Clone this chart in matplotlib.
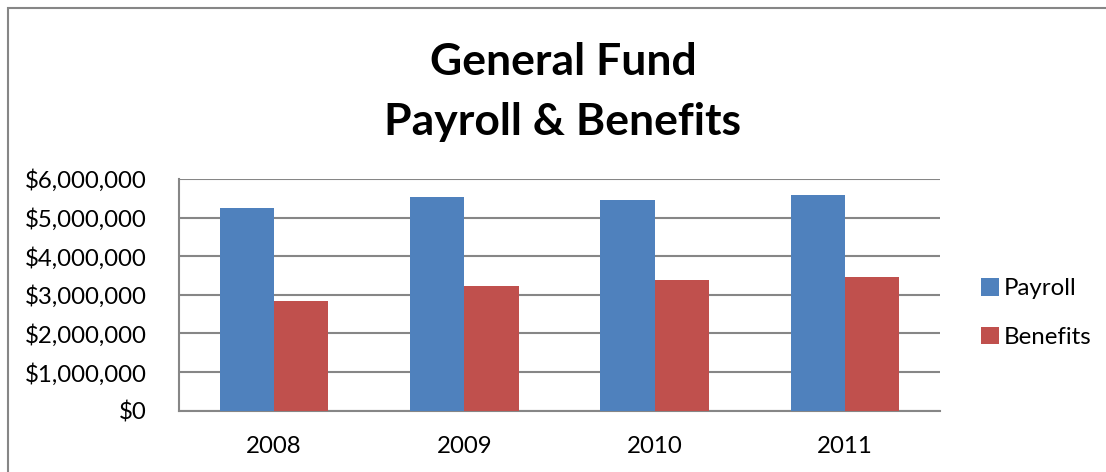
import matplotlib
matplotlib.use("Agg")
import matplotlib.pyplot as plt
import numpy as np
from matplotlib.patches import Rectangle
from matplotlib.ticker import FuncFormatter

years = ["2008", "2009", "2010", "2011"]
payroll = [5250000, 5540000, 5450000, 5590000]
benefits = [2830000, 3230000, 3390000, 3460000]
series_names = ["Payroll", "Benefits"]
colors = ["#4F81BD", "#C0504D"]

W, H = 1106, 472
fig = plt.figure(figsize=(W / 100, H / 100), dpi=100)
plt.rcParams['font.family'] = ['Lato', 'DejaVu Sans']

# outer chart border (left and top edges visible)
fig.patches.append(Rectangle((8 / W, -0.1), 1.1, 1 - 8 / H + 0.1,
                             transform=fig.transFigure, fill=False,
                             edgecolor="#868686", linewidth=1.5))

ax = fig.add_axes([179 / W, 1 - 410.7 / H, (940 - 179) / W, (410.7 - 179) / H])
x = np.arange(len(years))
bw = 1 / 3.5
ax.bar(x - bw / 2, payroll, width=bw, color=colors[0], label=series_names[0], zorder=3)
ax.bar(x + bw / 2, benefits, width=bw, color=colors[1], label=series_names[1], zorder=3)

ax.set_xlim(-0.5, len(years) - 0.5)
ax.set_ylim(0, 6000000)
ax.set_yticks(np.arange(0, 6000001, 1000000))
ax.yaxis.set_major_formatter(FuncFormatter(lambda v, p: "${:,.0f}".format(v)))
ax.set_xticks(x)
ax.set_xticklabels(years)
ax.grid(axis="y", color="#868686", linewidth=1.5, zorder=0)
for s in ["top", "right"]:
    ax.spines[s].set_visible(False)
for s in ["left", "bottom"]:
    ax.spines[s].set_color("#868686")
    ax.spines[s].set_linewidth(1.5)
ax.tick_params(axis="both", length=0, labelsize=17.3, colors="black")
ax.tick_params(axis="y", pad=23)
ax.tick_params(axis="x", pad=18)

fig.text(563 / W, 1 - 62 / H, "General Fund", ha="center", va="center",
         fontsize=32, fontweight="bold")
fig.text(563 / W, 1 - 122 / H, "Payroll & Benefits", ha="center", va="center",
         fontsize=32, fontweight="bold")

leg = ax.legend(loc="center left", bbox_to_anchor=(959 / W, 1 - 313 / H),
                bbox_transform=fig.transFigure, frameon=False, fontsize=17.3,
                handlelength=0.75, handleheight=0.75, handletextpad=0.2,
                labelspacing=1.15)

fig.savefig("out.png", dpi=100)
